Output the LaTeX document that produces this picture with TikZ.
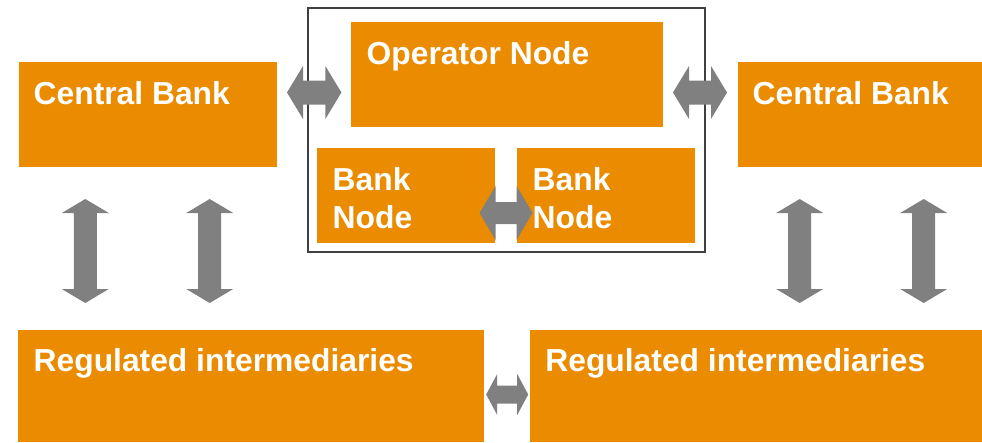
\documentclass[tikz,border=0pt]{standalone}
\usepackage{fontspec}
\setmainfont{Liberation Sans}
\usetikzlibrary{calc}
\definecolor{boxorange}{RGB}{234,139,0}
\definecolor{arrowgray}{RGB}{128,128,128}
\definecolor{framegray}{RGB}{64,64,64}
\tikzset{
  box/.style={fill=boxorange, draw=none, inner sep=0pt, anchor=north west},
  lbl/.style={text=white, inner sep=0pt, anchor=base west, align=left,
    font=\bfseries\fontsize{31.8}{37.7}\selectfont},
  pics/fatarrow/.style n args={4}{code={
    \fill[arrowgray] (-#1,0) -- (-#1+#4,#2) -- (-#1+#4,#3) -- (#1-#4,#3) -- (#1-#4,#2)
      -- (#1,0) -- (#1-#4,-#2) -- (#1-#4,-#3) -- (-#1+#4,-#3) -- (-#1+#4,-#2) -- cycle;}}
}
\begin{document}
\begin{tikzpicture}[x=1pt,y=-1pt]
\useasboundingbox (0,0) rectangle (982,442);
% boxes
\node[box, minimum width=258pt, minimum height=104.7pt] (cbl) at (19,62) {};
\node[box, minimum width=244pt, minimum height=104.7pt] (cbr) at (738,62) {};
\node[box, minimum width=312pt, minimum height=105pt] (op) at (351,22) {};
\node[box, minimum width=178.3pt, minimum height=95pt] (bnl) at (316.7,148) {};
\node[box, minimum width=178.3pt, minimum height=95pt] (bnr) at (516.7,148) {};
\node[box, minimum width=466pt, minimum height=112pt] (ril) at (18,330) {};
\node[box, minimum width=452pt, minimum height=112pt] (rir) at (530,330) {};
% frame around operator and bank nodes
\node[draw=framegray, line width=2pt, inner sep=0pt, anchor=north west,
      minimum width=397.3pt, minimum height=244pt] (frame) at (306.7,7) {};
% labels
\node[lbl] (cblt) at (33.5,104) {Central Bank};
\node[lbl] (cbrt) at (752.5,104) {Central Bank};
\node[lbl] (opt) at (366.5,64.3) {Operator Node};
\node[lbl] (bnlt) at (332.5,228.3) {Bank\\Node};
\node[lbl] (bnrt) at (532.5,228.3) {Bank\\Node};
\node[lbl] (rilt) at (33.5,371.7) {Regulated intermediaries};
\node[lbl] (rirt) at (545.2,371.7) {Regulated intermediaries};
% connector positions
\coordinate (a1) at ($(cbl.north east)!0.5!(op.north west)$);
\coordinate (a1) at (a1 |- 0,92.5);
\coordinate (a2) at (700,92.5);
\coordinate (a3) at ($(bnl.east)!0.5!(bnr.west)$);
\coordinate (a3) at (a3 |- 0,213);
\coordinate (v1) at (85.3,251);
\coordinate (v2) at (209.7,251);
\coordinate (v3) at (799.7,251);
\coordinate (v4) at (923.7,251);
\coordinate (a4) at ($(ril.east)!0.5!(rir.west)$);
\coordinate (a4) at (a4 |- 0,394.5);
% fat double arrows
\pic at (a1) {fatarrow={27.2}{26.5}{12}{16}};
\pic at (a2) {fatarrow={27}{26.5}{12}{16}};
\pic at (a3) {fatarrow={26.5}{27}{11}{16}};
\pic[rotate=90] at (v1) {fatarrow={52}{23.5}{11.5}{14}};
\pic[rotate=90] at (v2) {fatarrow={52}{23.5}{11.5}{14}};
\pic[rotate=90] at (v3) {fatarrow={52}{23.5}{11.5}{14}};
\pic[rotate=90] at (v4) {fatarrow={52}{23.5}{11.5}{14}};
\pic at (a4) {fatarrow={21}{20.5}{9}{11}};
\end{tikzpicture}
\end{document}
